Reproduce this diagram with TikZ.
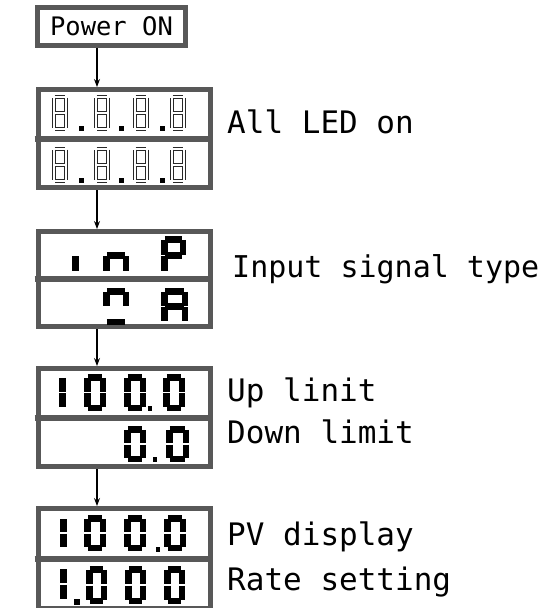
\documentclass[tikz,border=0pt]{standalone}
\usepackage{fontspec}
\usepackage{xcolor}
\usepackage{tikz}
\usetikzlibrary{arrows.meta,calc,positioning}
\newfontfamily\panelfont{DejaVu Sans Mono}
\definecolor{framegray}{RGB}{88,88,88}
\definecolor{ledgray}{RGB}{40,40,40}
\tikzset{
  panel/.style={rectangle,draw=framegray,line width=5pt,minimum width=172pt,
    minimum height=98pt,inner sep=0pt},
  powerbox/.style={rectangle,draw=framegray,line width=4.5pt,minimum width=148pt,
    minimum height=38pt,inner sep=0pt,font=\panelfont\fontsize{25.5}{26}\selectfont},
  divider/.style={draw=framegray,line width=6pt},
  flow/.style={-{Stealth[length=8pt,width=6pt]},line width=1.1pt,black},
  caption/.style={anchor=base west,inner sep=0pt,
    font=\panelfont\fontsize{31}{32}\selectfont},
  boldseg/.style={line width=6.5pt,black},
  ledseg/.style={draw=ledgray,line width=1.4pt,double=white,double distance=1.4pt},
  leddot/.style={fill=black}
}
% seven segment glyph: x, y (top left), width, height, thickness, style, segments
\newcommand{\sevseg}[7]{%
  \begin{scope}[shift={(#1,#2)}]
    \pgfmathsetmacro{\segl}{#5/2}
    \pgfmathsetmacro{\segr}{#3-#5/2}
    \pgfmathsetmacro{\segm}{#4/2}
    \pgfmathsetmacro{\segb}{#4-#5/2}
    \pgfmathsetmacro{\segg}{#5*0.1}
    \coordinate (a1) at (\segl+\segg,\segl); \coordinate (a2) at (\segr-\segg,\segl);
    \coordinate (b1) at (\segr,\segl+\segg); \coordinate (b2) at (\segr,\segm-\segg);
    \coordinate (c1) at (\segr,\segm+\segg); \coordinate (c2) at (\segr,\segb-\segg);
    \coordinate (d1) at (\segl+\segg,\segb); \coordinate (d2) at (\segr-\segg,\segb);
    \coordinate (e1) at (\segl,\segm+\segg); \coordinate (e2) at (\segl,\segb-\segg);
    \coordinate (f1) at (\segl,\segl+\segg); \coordinate (f2) at (\segl,\segm-\segg);
    \coordinate (g1) at (\segl+\segg,\segm); \coordinate (g2) at (\segr-\segg,\segm);
    \foreach \sg in {#7} {\draw[#6] (\sg1) -- (\sg2);}
  \end{scope}}

\begin{document}
\begin{tikzpicture}[x=1pt,y=-1pt]
  \useasboundingbox (0,0) rectangle (549,608);
  \coordinate (col) at (97,0);
  % boxes
  \node[powerbox] (pwr) at (111.5,26.5) {Power ON};
  \node[panel] (led) at (124.5,138.5) {};
  \node[panel,minimum height=95pt] (inp) at (124.5,279) {};
  \node[panel] (lim) at (124.5,417.5) {};
  \node[panel,minimum height=100pt] (pv) at (124.5,558.5) {};
  \foreach \b in {led,inp,lim,pv}
    \draw[divider] ([xshift=-1.5pt]\b.west) -- (\b.east);
  % arrows
  \draw[flow] (pwr.south -| col) -- (led.north -| col);
  \draw[flow] (led.south -| col) -- (inp.north -| col);
  \draw[flow] (inp.south -| col) -- (lim.north -| col);
  \draw[flow] (lim.south -| col) -- (pv.north -| col);
  % captions
  \node[caption] (cled) at (227,133) {All LED on};
  \node[caption,font=\panelfont\fontsize{30}{31}\selectfont] (cinp) at (232,277) {Input signal type};
  \node[caption] (cup) at (227,401) {Up linit};
  \node[caption] (cdown) at (227,443) {Down limit};
  \node[caption] (cpv) at (227,545) {PV display};
  \node[caption] (crate) at (227,590) {Rate setting};
  % all segments lit
  \foreach \x in {52,94,133,170} {
    \sevseg{\x}{95}{16}{36}{4.2}{ledseg}{a,b,c,d,e,f,g}
    \sevseg{\x}{147}{16}{36}{4.2}{ledseg}{a,b,c,d,e,f,g}
  }
  \foreach \x in {79,119,160} {
    \fill[leddot] (\x,126) rectangle ++(5,5);
    \fill[leddot] (\x,178) rectangle ++(5,5);
  }
  % input type
  \sevseg{72}{236}{25}{39}{6.5}{boldseg}{e}
  \sevseg{103}{236}{26}{39}{6.5}{boldseg}{c,e,g}
  \sevseg{161}{236}{25}{39}{6.5}{boldseg}{a,b,e,f,g}
  \sevseg{103}{288}{26}{37}{6.5}{boldseg}{a,b,f,d}
  \sevseg{161}{288}{27}{37}{6.5}{boldseg}{a,b,c,e,f,g}
  % limits
  \sevseg{59}{374}{22}{37}{6.5}{boldseg}{e,f}
  \foreach \x in {84,124,163}
    \sevseg{\x}{374}{22}{37}{6.5}{boldseg}{a,b,c,d,e,f}
  \fill (147.5,406) rectangle ++(4,5);
  \sevseg{124}{426}{22}{36}{6.5}{boldseg}{a,b,c,d,e,f}
  \sevseg{166}{426}{23}{36}{6.5}{boldseg}{a,b,c,d,e,f}
  \fill (152.5,457) rectangle ++(4,5);
  % pv and rate
  \sevseg{60}{515}{22}{36}{7}{boldseg}{e,f}
  \foreach \x in {84,124,164}
    \sevseg{\x}{515}{22}{36}{6.5}{boldseg}{a,b,c,d,e,f}
  \fill (155.5,547) rectangle ++(4,5);
  \sevseg{60}{565}{22}{38}{7}{boldseg}{e,f}
  \foreach \x in {86,125,164}
    \sevseg{\x}{566}{21}{38}{6.5}{boldseg}{a,b,c,d,e,f}
  \fill (74,599) rectangle ++(6,6);
\end{tikzpicture}
\end{document}
